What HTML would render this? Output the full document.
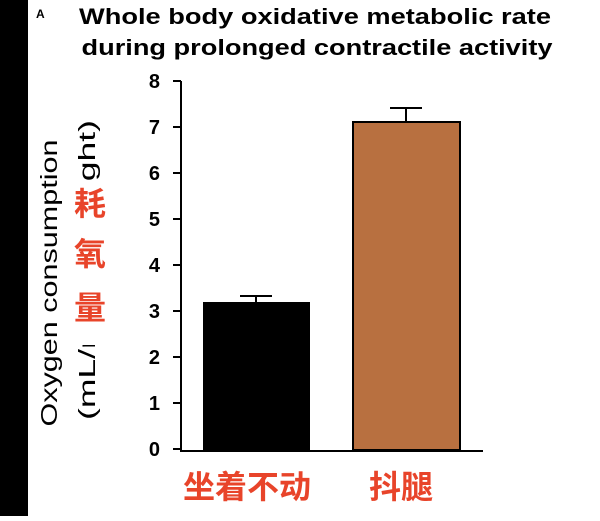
<!DOCTYPE html><html><head><style>body{margin:0;background:#fff}</style></head><body>
<svg width="600" height="516" xmlns="http://www.w3.org/2000/svg" font-family="Liberation Sans, Noto Sans CJK SC, sans-serif">
<rect x="0" y="0" width="28" height="516" fill="#000"/>
<text x="36" y="18" font-size="12" font-weight="bold">A</text>
<text x="315" y="24" font-size="22.5" font-weight="bold" text-anchor="middle" textLength="472" lengthAdjust="spacingAndGlyphs">Whole body oxidative metabolic rate</text>
<text x="317" y="55" font-size="22.5" font-weight="bold" text-anchor="middle" textLength="471" lengthAdjust="spacingAndGlyphs">during prolonged contractile activity</text>
<g font-size="20" font-weight="bold" text-anchor="end">
<text x="160" y="88">8</text><text x="160" y="134">7</text><text x="160" y="180">6</text><text x="160" y="226">5</text><text x="160" y="272">4</text><text x="160" y="318">3</text><text x="160" y="364">2</text><text x="160" y="410">1</text><text x="160" y="456">0</text>
</g>
<g stroke="#000" stroke-width="2" fill="none">
<path d="M181 81V451H483"/>
<path d="M173 81H181M173 127H181M173 173H181M173 219H181M173 265H181M173 311H181M173 357H181M173 403H181M173 449H181"/>
</g>
<rect x="203" y="302" width="107" height="148" fill="#000"/>
<path d="M256 302V296M240 296H272" stroke="#000" stroke-width="2"/>
<rect x="353" y="122" width="107" height="328" fill="#b87040" stroke="#000" stroke-width="2"/>
<path d="M406 122V108M390 108H422" stroke="#000" stroke-width="2"/>
<text transform="translate(57,283) rotate(-90)" font-size="23" text-anchor="middle" textLength="287" lengthAdjust="spacingAndGlyphs">Oxygen consumption</text>
<text transform="translate(95,270) rotate(-90)" font-size="23" text-anchor="middle" textLength="300" lengthAdjust="spacingAndGlyphs">(mL/min/kg weight)</text>
<rect x="70" y="180" width="40" height="165" fill="#fff"/>
<g font-size="32" font-weight="bold" fill="#e8442a" text-anchor="middle">
<text x="90" y="215">耗</text><text x="90" y="265">氧</text><text x="90" y="319">量</text>
<text x="247" y="498">坐着不动</text><text x="401" y="498">抖腿</text>
</g>
</svg>
</body></html>
